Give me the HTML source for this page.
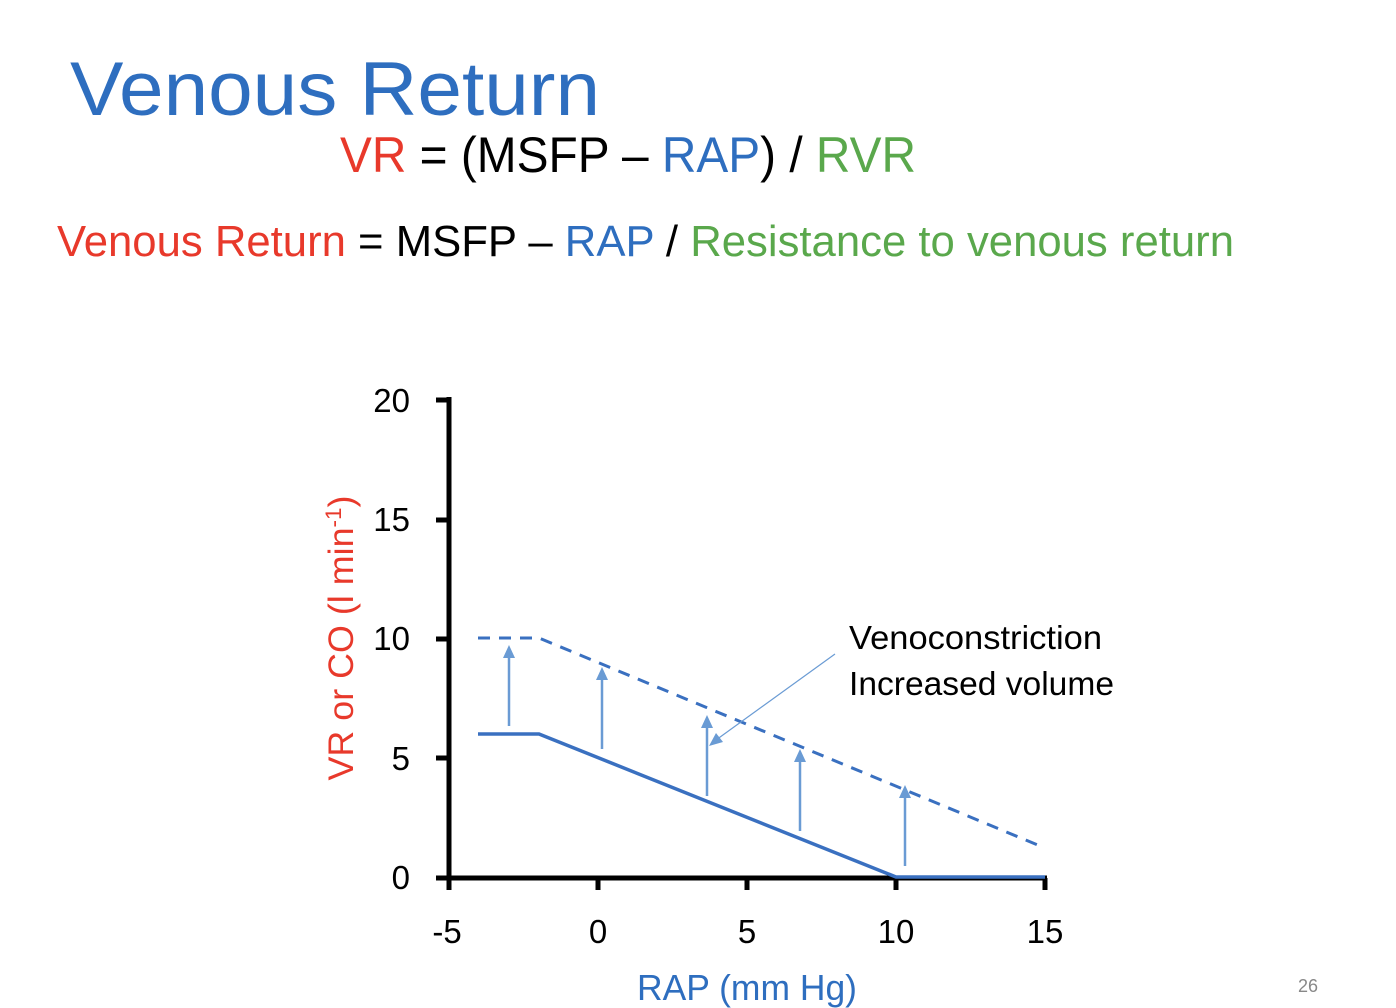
<!DOCTYPE html>
<html><head><meta charset="utf-8"><style>
html,body{margin:0;padding:0;background:#fff;}
svg{display:block;}
text{font-family:"Liberation Sans",sans-serif;}
</style></head><body>
<svg width="1396" height="1008" viewBox="0 0 1396 1008" xmlns="http://www.w3.org/2000/svg">
<text x="70" y="115" font-size="76" fill="#2e6ebf" textLength="530" lengthAdjust="spacingAndGlyphs">Venous Return</text>
<text x="340" y="172" font-size="50" textLength="576" lengthAdjust="spacingAndGlyphs"><tspan fill="#e8392b">VR</tspan><tspan fill="#000"> = (MSFP – </tspan><tspan fill="#2e6ebf">RAP</tspan><tspan fill="#000">) / </tspan><tspan fill="#5aa84c">RVR</tspan></text>
<text x="57" y="256" font-size="44" textLength="1177" lengthAdjust="spacingAndGlyphs"><tspan fill="#e8392b">Venous Return</tspan><tspan fill="#000"> = MSFP – </tspan><tspan fill="#2e6ebf">RAP</tspan><tspan fill="#000"> / </tspan><tspan fill="#5aa84c">Resistance to venous return</tspan></text>
<!-- axes -->
<g stroke="#000" stroke-width="5">
<line x1="449" y1="397" x2="449" y2="880"/>
<line x1="447" y1="878" x2="1047" y2="878"/>
<line x1="436" y1="400" x2="449" y2="400"/>
<line x1="436" y1="520" x2="449" y2="520"/>
<line x1="436" y1="639" x2="449" y2="639"/>
<line x1="436" y1="758" x2="449" y2="758"/>
<line x1="436" y1="878" x2="449" y2="878"/>
<line x1="449" y1="878" x2="449" y2="890"/>
<line x1="598" y1="878" x2="598" y2="890"/>
<line x1="747" y1="878" x2="747" y2="890"/>
<line x1="896" y1="878" x2="896" y2="890"/>
<line x1="1045" y1="878" x2="1045" y2="890"/>
</g>
<g font-size="33" fill="#000" text-anchor="end">
<text x="410" y="412">20</text><text x="410" y="531">15</text><text x="410" y="650">10</text><text x="410" y="770">5</text><text x="410" y="889">0</text>
</g>
<g font-size="33" fill="#000" text-anchor="middle">
<text x="447" y="943">-5</text><text x="598" y="943">0</text><text x="747" y="943">5</text><text x="896" y="943">10</text><text x="1045" y="943">15</text>
</g>
<text transform="translate(353,638) rotate(-90)" font-size="35" fill="#e8392b" text-anchor="middle" textLength="285" lengthAdjust="spacingAndGlyphs">VR or CO (l min<tspan font-size="22" dy="-12">-1</tspan><tspan dy="12">)</tspan></text>
<text x="747" y="1000" font-size="36" fill="#2e6ebf" text-anchor="middle" textLength="220" lengthAdjust="spacingAndGlyphs">RAP (mm Hg)</text>
<text x="1318" y="992" font-size="18" fill="#888" text-anchor="end">26</text>
<!-- curves -->
<polyline points="478,734 539,734 896,877 1045,877" fill="none" stroke="#3a70c0" stroke-width="3.5"/>
<polyline points="478,638 539,638 1045,848" fill="none" stroke="#3a70c0" stroke-width="3" stroke-dasharray="12,9"/>
<g stroke="#6a9bd4" stroke-width="2.5">
<line x1="509" y1="726" x2="509" y2="655"/>
<line x1="602" y1="749" x2="602" y2="677"/>
<line x1="707" y1="796" x2="707" y2="725"/>
<line x1="800" y1="831" x2="800" y2="759"/>
<line x1="905" y1="866" x2="905" y2="795"/>
</g>
<g fill="#6a9bd4">
<polygon points="509,645 503,658 515,658"/>
<polygon points="602,667 596,680 608,680"/>
<polygon points="707,715 701,728 713,728"/>
<polygon points="800,749 794,762 806,762"/>
<polygon points="905,785 899,798 911,798"/>
<polygon points="709,746 716,733 723,742"/>
</g>
<line x1="835" y1="654" x2="716" y2="740" stroke="#6a9bd4" stroke-width="1.2"/>
<text x="849" y="649" font-size="33" fill="#000" textLength="253" lengthAdjust="spacingAndGlyphs">Venoconstriction</text>
<text x="849" y="695" font-size="33" fill="#000" textLength="265" lengthAdjust="spacingAndGlyphs">Increased volume</text>
</svg>
</body></html>
